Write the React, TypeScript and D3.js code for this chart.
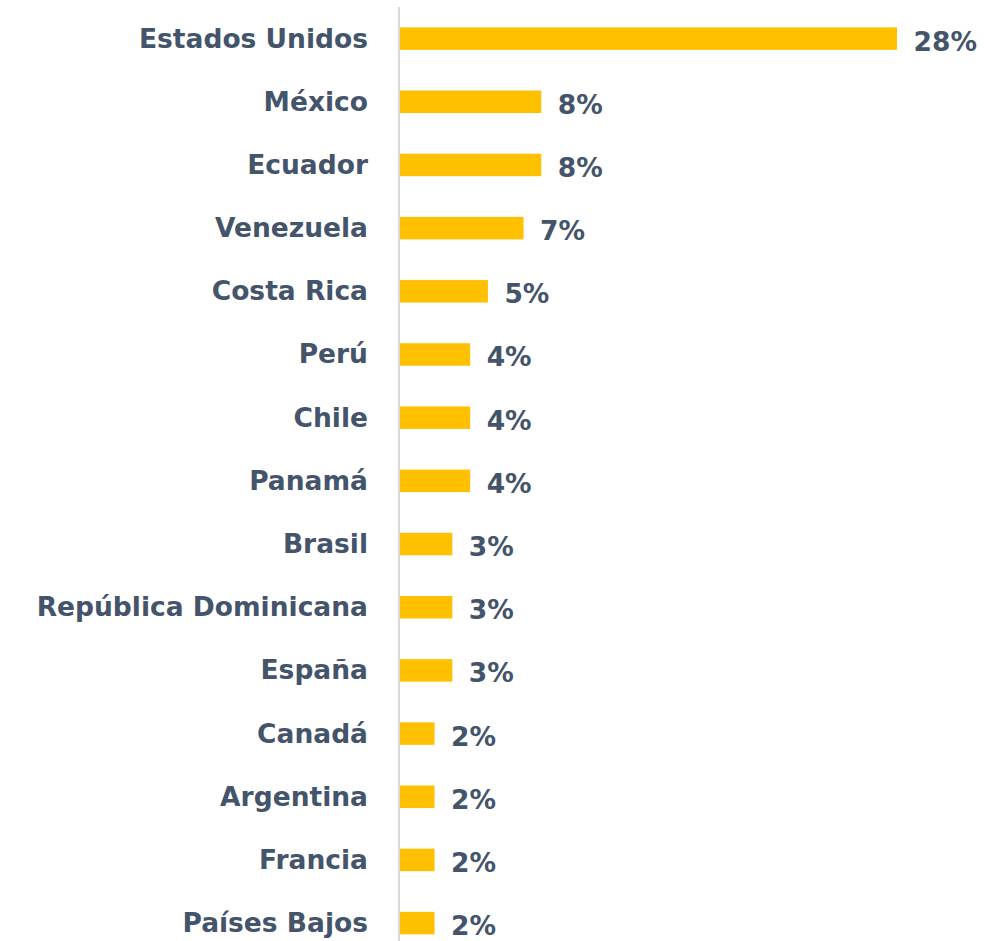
import React, { useEffect, useRef } from 'react';
import * as d3 from 'd3';

const countries = [
  'Estados Unidos', 'México', 'Ecuador', 'Venezuela', 'Costa Rica', 'Perú', 'Chile',
  'Panamá', 'Brasil', 'República Dominicana', 'España', 'Canadá', 'Argentina',
  'Francia', 'Países Bajos',
];
const shares = [28, 8, 8, 7, 5, 4, 4, 4, 3, 3, 3, 2, 2, 2, 2];

const App = () => {
  const ref = useRef<SVGSVGElement>(null);

  useEffect(() => {
    const width = 984;
    const height = 941;
    const x0 = 399;
    const svg = d3.select(ref.current);
    svg.selectAll('*').remove();

    const x = d3.scaleLinear().domain([0, 28]).range([x0, 897]);
    const y = d3.scaleBand().domain(countries).range([7, 954.7]).paddingInner(0.644).paddingOuter(0.322);

    const data = countries.map((c, i) => ({ name: c, value: shares[i] }));

    svg.append('g')
      .selectAll('rect')
      .data(data)
      .join('rect')
        .attr('x', x0 + 1)
        .attr('y', d => y(d.name)!)
        .attr('width', d => x(d.value) - x0 - 1)
        .attr('height', y.bandwidth())
        .attr('fill', '#FFC000');

    svg.append('line')
      .attr('x1', x0).attr('x2', x0)
      .attr('y1', 7).attr('y2', height)
      .attr('stroke', '#D9D9D9')
      .attr('stroke-width', 2);

    const font = '"DejaVu Sans", sans-serif';

    // category labels
    svg.append('g')
      .attr('font-family', font)
      .attr('font-weight', 'bold')
      .attr('font-size', 26.5)
      .attr('fill', '#44546A')
      .attr('text-anchor', 'end')
      .selectAll('text')
      .data(data)
      .join('text')
        .attr('x', x0 - 31)
        .attr('y', d => y(d.name)! + y.bandwidth() / 2 + 9)
        .text(d => d.name);

    // value labels
    svg.append('g')
      .attr('font-family', font)
      .attr('font-weight', 'bold')
      .attr('font-size', 26.5)
      .attr('fill', '#44546A')
      .selectAll('text')
      .data(data)
      .join('text')
        .attr('x', d => x(d.value) + 16.5)
        .attr('y', d => y(d.name)! + y.bandwidth() / 2 + 12)
        .text(d => `${d.value}%`);

    svg.attr('width', width).attr('height', height);
  }, []);

  return (
    <svg ref={ref} style={{ position: 'absolute', left: 0, top: 0, background: '#fff' }} />
  );
};

export default App;
